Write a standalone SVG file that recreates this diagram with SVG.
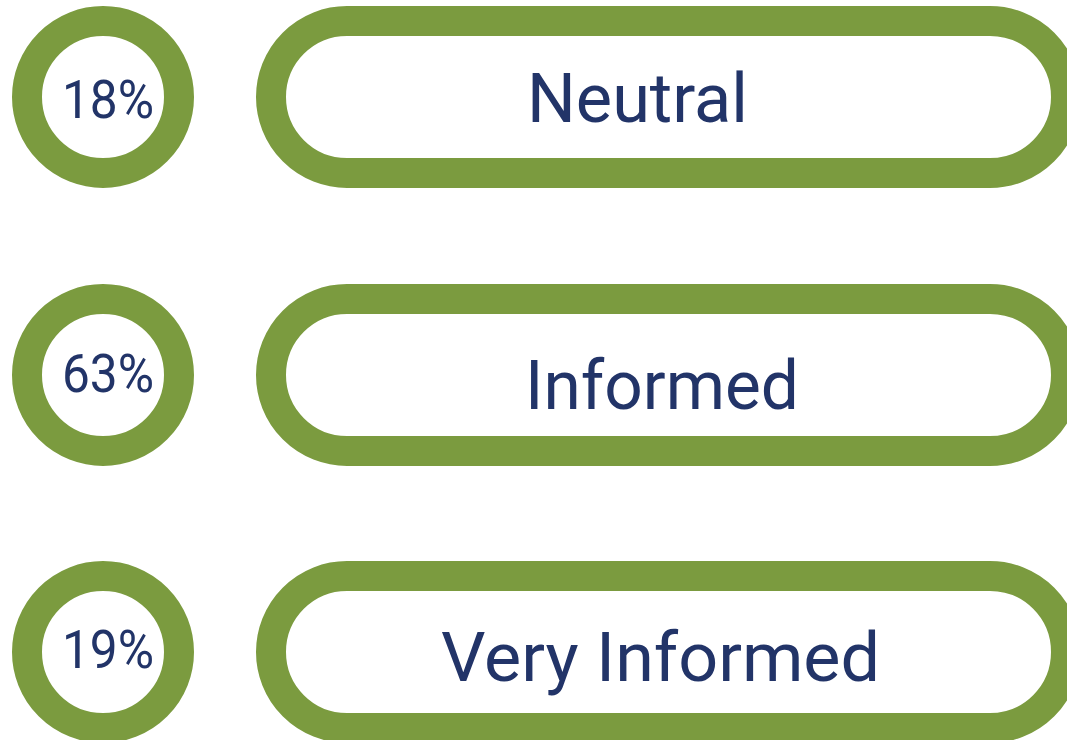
<svg xmlns="http://www.w3.org/2000/svg" width="1067" height="740" viewBox="0 0 1067 740">
<style>
.ring{fill:#ffffff;stroke:#7B9B3F;stroke-width:30}
.pct{font-family:Roboto,"Liberation Sans",sans-serif;font-size:54px;fill:#223468}
.lbl{font-family:Roboto,"Liberation Sans",sans-serif;font-size:69px;fill:#223468}
</style>
<rect width="1067" height="740" fill="#ffffff"/>
<g id="connectors"></g>
<g id="pct-neutral"><circle class="ring" cx="103" cy="97" r="76"/><text class="pct" x="62" y="118" textLength="92" lengthAdjust="spacingAndGlyphs">18%</text></g>
<g id="label-neutral"><rect class="ring" x="271" y="21" width="795" height="152" rx="76" ry="76"/><text class="lbl" x="527" y="122" textLength="221" lengthAdjust="spacingAndGlyphs">Neutral</text></g>
<g id="pct-informed"><circle class="ring" cx="103" cy="375" r="76"/><text class="pct" x="62" y="392" textLength="92" lengthAdjust="spacingAndGlyphs">63%</text></g>
<g id="label-informed"><rect class="ring" x="271" y="299" width="795" height="152" rx="76" ry="76"/><text class="lbl" x="525" y="409" textLength="274" lengthAdjust="spacingAndGlyphs">Informed</text></g>
<g id="pct-very"><circle class="ring" cx="103" cy="652" r="76"/><text class="pct" x="62" y="668" textLength="92" lengthAdjust="spacingAndGlyphs">19%</text></g>
<g id="label-very"><rect class="ring" x="271" y="576" width="795" height="152" rx="76" ry="76"/><text class="lbl" x="441" y="681" textLength="439" lengthAdjust="spacingAndGlyphs">Very Informed</text></g>
</svg>
